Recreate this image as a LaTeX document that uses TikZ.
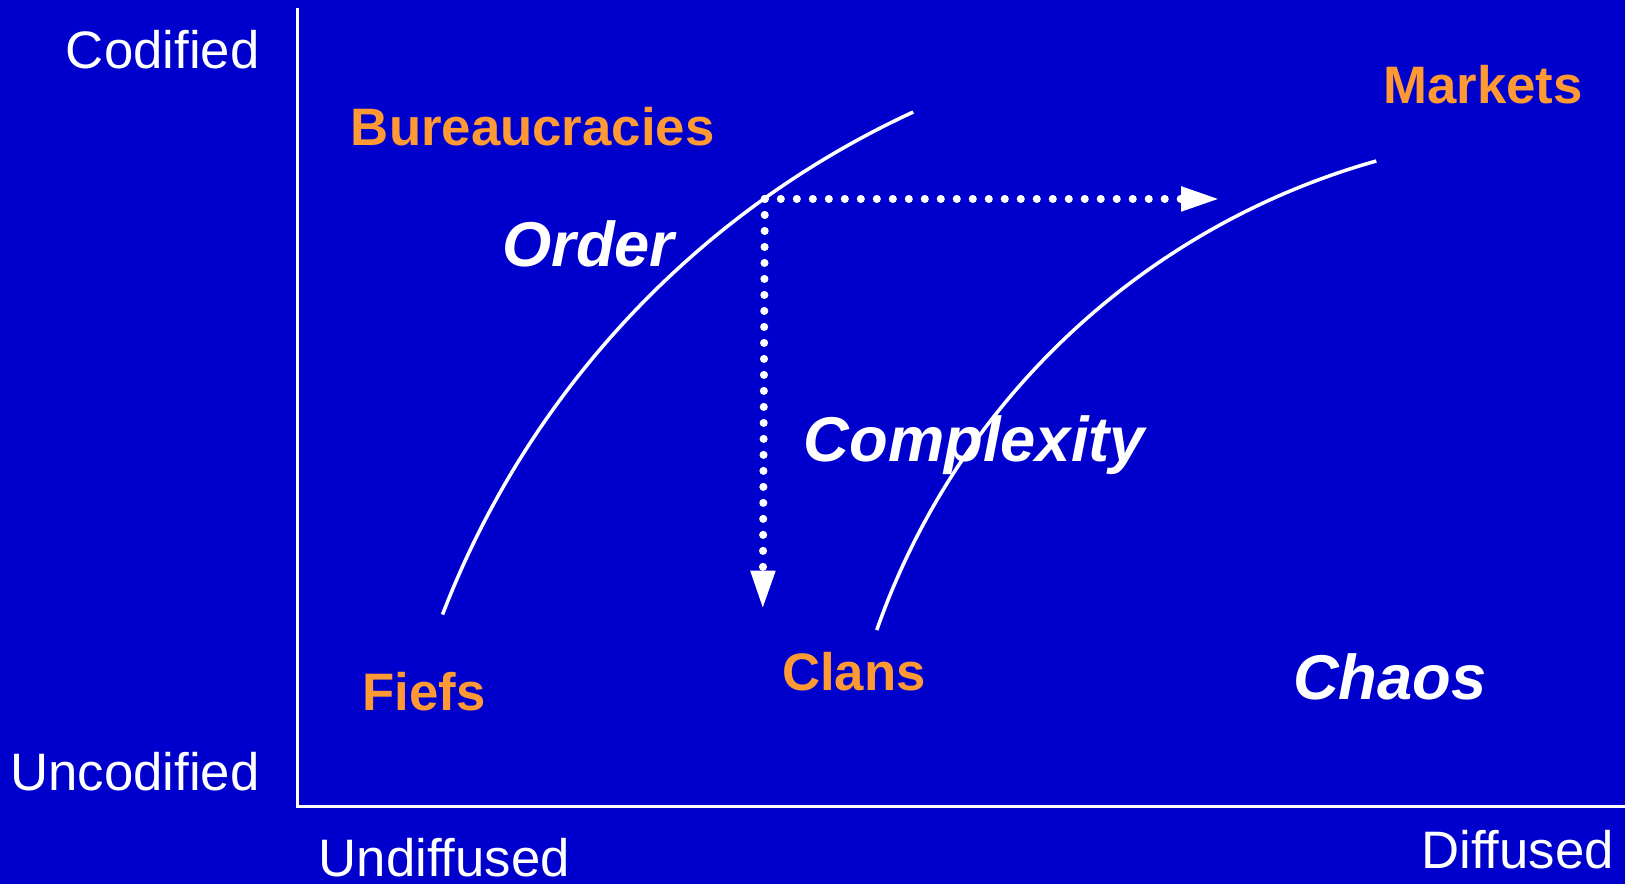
\documentclass[tikz,border=0pt]{standalone}
\usepackage{fontspec}
\setmainfont{Liberation Sans}
\usetikzlibrary{arrows.meta}
\definecolor{slideblue}{HTML}{0000CC}
\definecolor{formorange}{HTML}{FF9933}

\begin{document}
\begin{tikzpicture}[
	  x=0.010363cm, y=0.010363cm,
	  font=\fontsize{15}{18}\selectfont,
	  axislabel/.style={text=white, inner sep=0pt},
	  formlabel/.style={text=formorange, inner sep=0pt, font=\fontsize{15}{18}\selectfont\bfseries},
	  regimelabel/.style={text=white, inner sep=0pt, font=\fontsize{18}{21}\selectfont\bfseries\itshape},
	  axisline/.style={white, line width=1pt},
	  curve/.style={white, line width=1pt},
	  flow/.style={white, line width=2.3pt, line cap=round, dash pattern=on 0pt off 4.55pt,
	    -{Triangle[length=11pt,width=6.5pt]}}
	]

	% --- Background ---
	\useasboundingbox (0,0) rectangle (1568,853);
	\fill[slideblue] (0,0) rectangle (1568,853);

	% --- Axes ---
	\coordinate (ytop) at (287,845);
	\coordinate (xend) at (1568,75);
	\draw[axisline] (ytop) |- (xend);

	\node[axislabel, anchor=base east] (codified) at (251,787) {Codified};
	\node[axislabel, anchor=base east] (uncodified) at (251,90) {Uncodified};
	\node[axislabel, anchor=base west] (undiffused) at (307,7) {Undiffused};
	\node[axislabel, anchor=base east] (diffused) at (1558,15) {Diffused};

	% --- Institutions ---
	\node[formlabel, anchor=base west] (bureaucracies) at (338,713) {Bureaucracies};
	\node[formlabel, anchor=base east] (markets) at (1528,753) {Markets};
	\node[formlabel, anchor=base west] (fiefs) at (349,167) {Fiefs};
	\node[formlabel, anchor=base west] (clans) at (754,187) {Clans};

	% --- Regimes ---
	\node[regimelabel, anchor=base west] (order) at (484,596) {Order};
	\node[regimelabel, anchor=base west] (complexity) at (775,408) {Complexity};
	\node[regimelabel, anchor=base west] (chaos) at (1247,178) {Chaos};

	% --- Boundaries ---
	\coordinate (orderfoot) at (427,260);
	\coordinate (chaosfoot) at (846,245);
	\draw[curve] (orderfoot) arc[start angle=159, end angle=114.75, radius=882];
	\draw[curve] (chaosfoot) arc[start angle=160.7, end angle=105.7, radius=716];

	% --- Flows ---
	\coordinate (turn) at (738,661);
	\coordinate (rightend) at (1177,661);
	\coordinate (downend) at (736,265);
	\draw[flow] (turn) -- (rightend);
	\draw[flow] (turn) -- (downend);

	\end{tikzpicture}
\end{document}
